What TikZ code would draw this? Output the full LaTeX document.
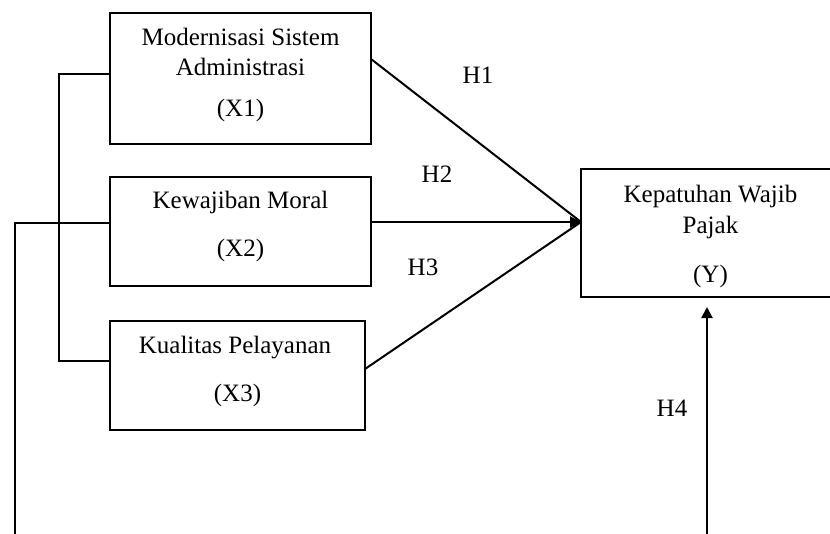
\documentclass[tikz,border=0pt]{standalone}
\usepackage{fontspec}
\setmainfont{Liberation Serif}
\usetikzlibrary{arrows.meta,calc}
\begin{document}
\begin{tikzpicture}[x=1pt,y=-1pt,
  box/.style={draw, line width=2pt, inner sep=0pt, outer sep=0pt},
  txt/.style={font=\fontsize{25}{30}\selectfont, inner sep=0pt, anchor=base},
  conn/.style={line width=2pt},
  arr/.style={line width=2pt, -{Triangle[length=11pt,width=11pt]}}]
\useasboundingbox (0,0) rectangle (830,533);
\clip (0,0) rectangle (830,533);
% boxes
\node[box, minimum width=261pt, minimum height=131pt] (x1) at (240.5,78.5) {};
\node[box, minimum width=261pt, minimum height=109pt] (x2) at (240.5,231.5) {};
\node[box, minimum width=255pt, minimum height=109pt] (x3) at (237.5,375.5) {};
\node[box, minimum width=259pt, minimum height=128pt] (y) at (710.5,233) {};
% texts
\node[txt] (t1a) at (240.5,45) {Modernisasi Sistem};
\node[txt] (t1b) at (240.5,75) {Administrasi};
\node[txt] (t1c) at (240.5,116) {(X1)};
\node[txt] (t2a) at (240.5,208) {Kewajiban Moral};
\node[txt] (t2b) at (240.5,256) {(X2)};
\node[txt] (t3a) at (235,353) {Kualitas Pelayanan};
\node[txt] (t3b) at (237.5,401) {(X3)};
\node[txt] (tya) at (710.5,202) {Kepatuhan Wajib};
\node[txt] (tyb) at (710.5,233) {Pajak};
\node[txt] (tyc) at (710.5,282) {(Y)};
% hypothesis labels
\node[txt] (h1) at (478,83) {H1};
\node[txt] (h2) at (437,182) {H2};
\node[txt] (h3) at (423,275) {H3};
\node[txt] (h4) at (672,416) {H4};
% convergence
\coordinate (tip) at (581,222);
\draw[conn] ($(x1.north east)+(0,46)$) -- (tip);
\draw[conn] ($(x3.north east)+(0,48)$) -- (tip);
\draw[arr] (tip -| x2.east) -- (tip);
% left bracket
\coordinate (b1) at (59,74);
\coordinate (b3) at (59,361);
\draw[conn] (b1 -| x1.west) -- (b1) -- (b3) -- (b3 -| x3.west);
% outer line
\coordinate (o1) at (15,223);
\coordinate (o2) at (15,545);
\draw[conn] (o1 -| x2.west) -- (o1) -- (o2);
% H4 arrow
\coordinate (h4s) at (707,545);
\draw[arr] (h4s) -- ($(h4s |- y.south)+(0,10)$);
\end{tikzpicture}
\end{document}
